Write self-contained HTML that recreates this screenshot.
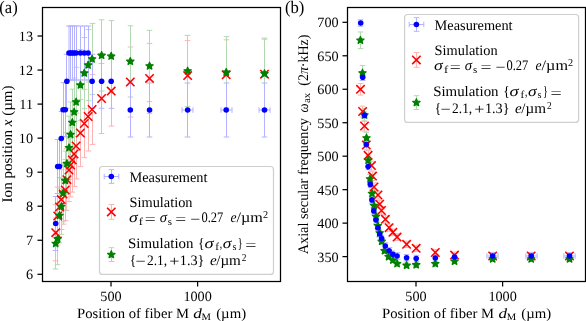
<!DOCTYPE html><html><head><meta charset="utf-8"><style>html,body{margin:0;padding:0;background:#fff;}svg{display:block;will-change:transform;}text{text-rendering:geometricPrecision;}</style></head><body><svg width="586" height="321" viewBox="0 0 586 321"><rect width="586" height="321" fill="#fff"/><g stroke="#ffb3b3" stroke-width="1.0" fill="none"><line x1="55.50" y1="204.66" x2="55.50" y2="260.74"/><line x1="52.70" y1="204.66" x2="58.30" y2="204.66"/><line x1="52.70" y1="260.74" x2="58.30" y2="260.74"/><line x1="57.50" y1="187.03" x2="57.50" y2="244.97"/><line x1="54.70" y1="187.03" x2="60.30" y2="187.03"/><line x1="54.70" y1="244.97" x2="60.30" y2="244.97"/><line x1="59.50" y1="177.52" x2="59.50" y2="236.48"/><line x1="56.70" y1="177.52" x2="62.30" y2="177.52"/><line x1="56.70" y1="236.48" x2="62.30" y2="236.48"/><line x1="61.50" y1="169.71" x2="61.50" y2="229.49"/><line x1="58.70" y1="169.71" x2="64.30" y2="169.71"/><line x1="58.70" y1="229.49" x2="64.30" y2="229.49"/><line x1="63.50" y1="163.80" x2="63.50" y2="224.20"/><line x1="60.70" y1="163.80" x2="66.30" y2="163.80"/><line x1="60.70" y1="224.20" x2="66.30" y2="224.20"/><line x1="65.50" y1="159.57" x2="65.50" y2="220.43"/><line x1="62.70" y1="159.57" x2="68.30" y2="159.57"/><line x1="62.70" y1="220.43" x2="68.30" y2="220.43"/><line x1="66.50" y1="148.70" x2="66.50" y2="210.70"/><line x1="63.70" y1="148.70" x2="69.30" y2="148.70"/><line x1="63.70" y1="210.70" x2="69.30" y2="210.70"/><line x1="69.00" y1="138.46" x2="69.00" y2="201.54"/><line x1="66.20" y1="138.46" x2="71.80" y2="138.46"/><line x1="66.20" y1="201.54" x2="71.80" y2="201.54"/><line x1="70.50" y1="133.18" x2="70.50" y2="196.82"/><line x1="67.70" y1="133.18" x2="73.30" y2="133.18"/><line x1="67.70" y1="196.82" x2="73.30" y2="196.82"/><line x1="72.50" y1="127.90" x2="72.50" y2="192.10"/><line x1="69.70" y1="127.90" x2="75.30" y2="127.90"/><line x1="69.70" y1="192.10" x2="75.30" y2="192.10"/><line x1="74.50" y1="121.57" x2="74.50" y2="186.43"/><line x1="71.70" y1="121.57" x2="77.30" y2="121.57"/><line x1="71.70" y1="186.43" x2="77.30" y2="186.43"/><line x1="76.50" y1="113.12" x2="76.50" y2="178.88"/><line x1="73.70" y1="113.12" x2="79.30" y2="113.12"/><line x1="73.70" y1="178.88" x2="79.30" y2="178.88"/><line x1="80.50" y1="99.39" x2="80.50" y2="166.61"/><line x1="77.70" y1="99.39" x2="83.30" y2="99.39"/><line x1="77.70" y1="166.61" x2="83.30" y2="166.61"/><line x1="84.50" y1="89.36" x2="84.50" y2="157.64"/><line x1="81.70" y1="89.36" x2="87.30" y2="89.36"/><line x1="81.70" y1="157.64" x2="87.30" y2="157.64"/><line x1="88.50" y1="81.97" x2="88.50" y2="151.03"/><line x1="85.70" y1="81.97" x2="91.30" y2="81.97"/><line x1="85.70" y1="151.03" x2="91.30" y2="151.03"/><line x1="92.50" y1="74.58" x2="92.50" y2="144.42"/><line x1="89.70" y1="74.58" x2="95.30" y2="74.58"/><line x1="89.70" y1="144.42" x2="95.30" y2="144.42"/><line x1="101.50" y1="63.50" x2="101.50" y2="133.50"/><line x1="98.70" y1="63.50" x2="104.30" y2="63.50"/><line x1="98.70" y1="133.50" x2="104.30" y2="133.50"/><line x1="111.50" y1="56.10" x2="111.50" y2="126.10"/><line x1="108.70" y1="56.10" x2="114.30" y2="56.10"/><line x1="108.70" y1="126.10" x2="114.30" y2="126.10"/><line x1="130.50" y1="47.00" x2="130.50" y2="117.00"/><line x1="127.70" y1="47.00" x2="133.30" y2="47.00"/><line x1="127.70" y1="117.00" x2="133.30" y2="117.00"/><line x1="149.50" y1="43.40" x2="149.50" y2="113.40"/><line x1="146.70" y1="43.40" x2="152.30" y2="43.40"/><line x1="146.70" y1="113.40" x2="152.30" y2="113.40"/><line x1="187.50" y1="40.60" x2="187.50" y2="110.60"/><line x1="184.70" y1="40.60" x2="190.30" y2="40.60"/><line x1="184.70" y1="110.60" x2="190.30" y2="110.60"/><line x1="226.50" y1="39.80" x2="226.50" y2="109.80"/><line x1="223.70" y1="39.80" x2="229.30" y2="39.80"/><line x1="223.70" y1="109.80" x2="229.30" y2="109.80"/><line x1="264.50" y1="39.20" x2="264.50" y2="109.20"/><line x1="261.70" y1="39.20" x2="267.30" y2="39.20"/><line x1="261.70" y1="109.20" x2="267.30" y2="109.20"/></g><g stroke="#b3d9b3" stroke-width="1.0" fill="none"><line x1="55.50" y1="217.99" x2="55.50" y2="269.01"/><line x1="52.70" y1="217.99" x2="58.30" y2="217.99"/><line x1="52.70" y1="269.01" x2="58.30" y2="269.01"/><line x1="57.50" y1="213.09" x2="57.50" y2="264.71"/><line x1="54.70" y1="213.09" x2="60.30" y2="213.09"/><line x1="54.70" y1="264.71" x2="60.30" y2="264.71"/><line x1="59.50" y1="188.18" x2="59.50" y2="242.82"/><line x1="56.70" y1="188.18" x2="62.30" y2="188.18"/><line x1="56.70" y1="242.82" x2="62.30" y2="242.82"/><line x1="61.50" y1="178.60" x2="61.50" y2="234.40"/><line x1="58.70" y1="178.60" x2="64.30" y2="178.60"/><line x1="58.70" y1="234.40" x2="64.30" y2="234.40"/><line x1="63.50" y1="164.23" x2="63.50" y2="221.77"/><line x1="60.70" y1="164.23" x2="66.30" y2="164.23"/><line x1="60.70" y1="221.77" x2="66.30" y2="221.77"/><line x1="65.50" y1="151.02" x2="65.50" y2="210.18"/><line x1="62.70" y1="151.02" x2="68.30" y2="151.02"/><line x1="62.70" y1="210.18" x2="68.30" y2="210.18"/><line x1="66.50" y1="132.93" x2="66.50" y2="194.27"/><line x1="63.70" y1="132.93" x2="69.30" y2="132.93"/><line x1="63.70" y1="194.27" x2="69.30" y2="194.27"/><line x1="69.00" y1="116.10" x2="69.00" y2="179.50"/><line x1="66.20" y1="116.10" x2="71.80" y2="116.10"/><line x1="66.20" y1="179.50" x2="71.80" y2="179.50"/><line x1="70.50" y1="101.94" x2="70.50" y2="167.06"/><line x1="67.70" y1="101.94" x2="73.30" y2="101.94"/><line x1="67.70" y1="167.06" x2="73.30" y2="167.06"/><line x1="72.50" y1="89.17" x2="72.50" y2="155.83"/><line x1="69.70" y1="89.17" x2="75.30" y2="89.17"/><line x1="69.70" y1="155.83" x2="75.30" y2="155.83"/><line x1="74.50" y1="77.99" x2="74.50" y2="146.01"/><line x1="71.70" y1="77.99" x2="77.30" y2="77.99"/><line x1="71.70" y1="146.01" x2="77.30" y2="146.01"/><line x1="76.50" y1="67.34" x2="76.50" y2="136.66"/><line x1="73.70" y1="67.34" x2="79.30" y2="67.34"/><line x1="73.70" y1="136.66" x2="79.30" y2="136.66"/><line x1="80.50" y1="49.50" x2="80.50" y2="120.70"/><line x1="77.70" y1="49.50" x2="83.30" y2="49.50"/><line x1="77.70" y1="120.70" x2="83.30" y2="120.70"/><line x1="84.50" y1="37.50" x2="84.50" y2="108.70"/><line x1="81.70" y1="37.50" x2="87.30" y2="37.50"/><line x1="81.70" y1="108.70" x2="87.30" y2="108.70"/><line x1="88.50" y1="29.50" x2="88.50" y2="100.70"/><line x1="85.70" y1="29.50" x2="91.30" y2="29.50"/><line x1="85.70" y1="100.70" x2="91.30" y2="100.70"/><line x1="92.50" y1="23.40" x2="92.50" y2="94.60"/><line x1="89.70" y1="23.40" x2="95.30" y2="23.40"/><line x1="89.70" y1="94.60" x2="95.30" y2="94.60"/><line x1="101.50" y1="19.80" x2="101.50" y2="91.00"/><line x1="98.70" y1="19.80" x2="104.30" y2="19.80"/><line x1="98.70" y1="91.00" x2="104.30" y2="91.00"/><line x1="111.50" y1="20.60" x2="111.50" y2="91.80"/><line x1="108.70" y1="20.60" x2="114.30" y2="20.60"/><line x1="108.70" y1="91.80" x2="114.30" y2="91.80"/><line x1="130.50" y1="25.80" x2="130.50" y2="97.00"/><line x1="127.70" y1="25.80" x2="133.30" y2="25.80"/><line x1="127.70" y1="97.00" x2="133.30" y2="97.00"/><line x1="149.50" y1="30.40" x2="149.50" y2="101.60"/><line x1="146.70" y1="30.40" x2="152.30" y2="30.40"/><line x1="146.70" y1="101.60" x2="152.30" y2="101.60"/><line x1="187.50" y1="35.40" x2="187.50" y2="106.60"/><line x1="184.70" y1="35.40" x2="190.30" y2="35.40"/><line x1="184.70" y1="106.60" x2="190.30" y2="106.60"/><line x1="226.50" y1="36.70" x2="226.50" y2="107.90"/><line x1="223.70" y1="36.70" x2="229.30" y2="36.70"/><line x1="223.70" y1="107.90" x2="229.30" y2="107.90"/><line x1="264.50" y1="38.10" x2="264.50" y2="109.30"/><line x1="261.70" y1="38.10" x2="267.30" y2="38.10"/><line x1="261.70" y1="109.30" x2="267.30" y2="109.30"/></g><g stroke="#b3b3ff" stroke-width="1.0" fill="none"><line x1="55.50" y1="196.50" x2="55.50" y2="250.50"/><line x1="52.70" y1="196.50" x2="58.30" y2="196.50"/><line x1="52.70" y1="250.50" x2="58.30" y2="250.50"/><line x1="57.50" y1="139.50" x2="57.50" y2="193.50"/><line x1="54.70" y1="139.50" x2="60.30" y2="139.50"/><line x1="54.70" y1="193.50" x2="60.30" y2="193.50"/><line x1="59.50" y1="139.50" x2="59.50" y2="193.50"/><line x1="56.70" y1="139.50" x2="62.30" y2="139.50"/><line x1="56.70" y1="193.50" x2="62.30" y2="193.50"/><line x1="61.50" y1="111.50" x2="61.50" y2="165.50"/><line x1="58.70" y1="111.50" x2="64.30" y2="111.50"/><line x1="58.70" y1="165.50" x2="64.30" y2="165.50"/><line x1="63.50" y1="82.70" x2="63.50" y2="136.70"/><line x1="60.70" y1="82.70" x2="66.30" y2="82.70"/><line x1="60.70" y1="136.70" x2="66.30" y2="136.70"/><line x1="65.50" y1="82.70" x2="65.50" y2="136.70"/><line x1="62.70" y1="82.70" x2="68.30" y2="82.70"/><line x1="62.70" y1="136.70" x2="68.30" y2="136.70"/><line x1="66.50" y1="54.30" x2="66.50" y2="108.30"/><line x1="63.70" y1="54.30" x2="69.30" y2="54.30"/><line x1="63.70" y1="108.30" x2="69.30" y2="108.30"/><line x1="69.00" y1="26.00" x2="69.00" y2="80.00"/><line x1="66.20" y1="26.00" x2="71.80" y2="26.00"/><line x1="66.20" y1="80.00" x2="71.80" y2="80.00"/><line x1="70.50" y1="26.00" x2="70.50" y2="80.00"/><line x1="67.70" y1="26.00" x2="73.30" y2="26.00"/><line x1="67.70" y1="80.00" x2="73.30" y2="80.00"/><line x1="72.50" y1="26.00" x2="72.50" y2="80.00"/><line x1="69.70" y1="26.00" x2="75.30" y2="26.00"/><line x1="69.70" y1="80.00" x2="75.30" y2="80.00"/><line x1="74.50" y1="26.00" x2="74.50" y2="80.00"/><line x1="71.70" y1="26.00" x2="77.30" y2="26.00"/><line x1="71.70" y1="80.00" x2="77.30" y2="80.00"/><line x1="76.50" y1="26.00" x2="76.50" y2="80.00"/><line x1="73.70" y1="26.00" x2="79.30" y2="26.00"/><line x1="73.70" y1="80.00" x2="79.30" y2="80.00"/><line x1="80.50" y1="26.00" x2="80.50" y2="80.00"/><line x1="77.70" y1="26.00" x2="83.30" y2="26.00"/><line x1="77.70" y1="80.00" x2="83.30" y2="80.00"/><line x1="84.50" y1="26.00" x2="84.50" y2="80.00"/><line x1="81.70" y1="26.00" x2="87.30" y2="26.00"/><line x1="81.70" y1="80.00" x2="87.30" y2="80.00"/><line x1="88.50" y1="26.00" x2="88.50" y2="80.00"/><line x1="85.70" y1="26.00" x2="91.30" y2="26.00"/><line x1="85.70" y1="80.00" x2="91.30" y2="80.00"/><line x1="92.50" y1="54.30" x2="92.50" y2="108.30"/><line x1="89.70" y1="54.30" x2="95.30" y2="54.30"/><line x1="89.70" y1="108.30" x2="95.30" y2="108.30"/><line x1="101.50" y1="54.30" x2="101.50" y2="108.30"/><line x1="98.70" y1="54.30" x2="104.30" y2="54.30"/><line x1="98.70" y1="108.30" x2="104.30" y2="108.30"/><line x1="111.50" y1="54.30" x2="111.50" y2="108.30"/><line x1="108.70" y1="54.30" x2="114.30" y2="54.30"/><line x1="108.70" y1="108.30" x2="114.30" y2="108.30"/><line x1="130.50" y1="83.00" x2="130.50" y2="137.00"/><line x1="127.70" y1="83.00" x2="133.30" y2="83.00"/><line x1="127.70" y1="137.00" x2="133.30" y2="137.00"/><line x1="149.50" y1="83.00" x2="149.50" y2="137.00"/><line x1="146.70" y1="83.00" x2="152.30" y2="83.00"/><line x1="146.70" y1="137.00" x2="152.30" y2="137.00"/><line x1="187.50" y1="83.00" x2="187.50" y2="137.00"/><line x1="184.70" y1="83.00" x2="190.30" y2="83.00"/><line x1="184.70" y1="137.00" x2="190.30" y2="137.00"/><line x1="182.00" y1="110.00" x2="193.00" y2="110.00"/><line x1="182.00" y1="107.20" x2="182.00" y2="112.80"/><line x1="193.00" y1="107.20" x2="193.00" y2="112.80"/><line x1="226.50" y1="83.00" x2="226.50" y2="137.00"/><line x1="223.70" y1="83.00" x2="229.30" y2="83.00"/><line x1="223.70" y1="137.00" x2="229.30" y2="137.00"/><line x1="221.00" y1="110.00" x2="232.00" y2="110.00"/><line x1="221.00" y1="107.20" x2="221.00" y2="112.80"/><line x1="232.00" y1="107.20" x2="232.00" y2="112.80"/><line x1="264.50" y1="83.00" x2="264.50" y2="137.00"/><line x1="261.70" y1="83.00" x2="267.30" y2="83.00"/><line x1="261.70" y1="137.00" x2="267.30" y2="137.00"/><line x1="259.00" y1="110.00" x2="270.00" y2="110.00"/><line x1="259.00" y1="107.20" x2="259.00" y2="112.80"/><line x1="270.00" y1="107.20" x2="270.00" y2="112.80"/></g><g stroke="#ff0000" stroke-width="1.6" fill="none"><path d="M51.50 228.50L59.90 236.90M51.50 236.90L59.90 228.50"/><path d="M53.50 211.80L61.90 220.20M53.50 220.20L61.90 211.80"/><path d="M55.30 202.80L63.70 211.20M55.30 211.20L63.70 202.80"/><path d="M57.10 195.40L65.50 203.80M57.10 203.80L65.50 195.40"/><path d="M58.90 189.80L67.30 198.20M58.90 198.20L67.30 189.80"/><path d="M61.10 185.80L69.50 194.20M61.10 194.20L69.50 185.80"/><path d="M62.70 175.50L71.10 183.90M62.70 183.90L71.10 175.50"/><path d="M64.80 165.80L73.20 174.20M64.80 174.20L73.20 165.80"/><path d="M66.40 160.80L74.80 169.20M66.40 169.20L74.80 160.80"/><path d="M68.10 155.80L76.50 164.20M68.10 164.20L76.50 155.80"/><path d="M69.90 149.80L78.30 158.20M69.90 158.20L78.30 149.80"/><path d="M71.90 141.80L80.30 150.20M71.90 150.20L80.30 141.80"/><path d="M76.20 128.80L84.60 137.20M76.20 137.20L84.60 128.80"/><path d="M80.10 119.30L88.50 127.70M80.10 127.70L88.50 119.30"/><path d="M83.90 112.30L92.30 120.70M83.90 120.70L92.30 112.30"/><path d="M87.90 105.30L96.30 113.70M87.90 113.70L96.30 105.30"/><path d="M97.40 94.30L105.80 102.70M97.40 102.70L105.80 94.30"/><path d="M107.00 86.90L115.40 95.30M107.00 95.30L115.40 86.90"/><path d="M126.10 77.80L134.50 86.20M126.10 86.20L134.50 77.80"/><path d="M145.35 74.20L153.75 82.60M145.35 82.60L153.75 74.20"/><path d="M183.46 71.40L191.86 79.80M183.46 79.80L191.86 71.40"/><path d="M222.00 70.60L230.40 79.00M222.00 79.00L230.40 70.60"/><path d="M260.30 70.00L268.70 78.40M260.30 78.40L268.70 70.00"/></g><g fill="#008000" stroke="#008000" stroke-width="1.25" stroke-linejoin="round"><polygon points="55.70,239.65 56.74,242.07 59.36,242.31 57.38,244.05 57.96,246.61 55.70,245.27 53.44,246.61 54.02,244.05 52.04,242.31 54.66,242.07"/><polygon points="57.70,235.05 58.74,237.47 61.36,237.71 59.38,239.45 59.96,242.01 57.70,240.67 55.44,242.01 56.02,239.45 54.04,237.71 56.66,237.47"/><polygon points="59.50,211.65 60.54,214.07 63.16,214.31 61.18,216.05 61.76,218.61 59.50,217.27 57.24,218.61 57.82,216.05 55.84,214.31 58.46,214.07"/><polygon points="61.30,202.65 62.34,205.07 64.96,205.31 62.98,207.05 63.56,209.61 61.30,208.27 59.04,209.61 59.62,207.05 57.64,205.31 60.26,205.07"/><polygon points="63.10,189.15 64.14,191.57 66.76,191.81 64.78,193.55 65.36,196.11 63.10,194.77 60.84,196.11 61.42,193.55 59.44,191.81 62.06,191.57"/><polygon points="65.30,176.75 66.34,179.17 68.96,179.41 66.98,181.15 67.56,183.71 65.30,182.37 63.04,183.71 63.62,181.15 61.64,179.41 64.26,179.17"/><polygon points="66.90,159.75 67.94,162.17 70.56,162.41 68.58,164.15 69.16,166.71 66.90,165.37 64.64,166.71 65.22,164.15 63.24,162.41 65.86,162.17"/><polygon points="69.00,143.95 70.04,146.37 72.66,146.61 70.68,148.35 71.26,150.91 69.00,149.57 66.74,150.91 67.32,148.35 65.34,146.61 67.96,146.37"/><polygon points="70.60,130.65 71.64,133.07 74.26,133.31 72.28,135.05 72.86,137.61 70.60,136.27 68.34,137.61 68.92,135.05 66.94,133.31 69.56,133.07"/><polygon points="72.30,118.65 73.34,121.07 75.96,121.31 73.98,123.05 74.56,125.61 72.30,124.27 70.04,125.61 70.62,123.05 68.64,121.31 71.26,121.07"/><polygon points="74.10,108.15 75.14,110.57 77.76,110.81 75.78,112.55 76.36,115.11 74.10,113.77 71.84,115.11 72.42,112.55 70.44,110.81 73.06,110.57"/><polygon points="76.10,98.15 77.14,100.57 79.76,100.81 77.78,102.55 78.36,105.11 76.10,103.77 73.84,105.11 74.42,102.55 72.44,100.81 75.06,100.57"/><polygon points="80.40,81.25 81.44,83.67 84.06,83.91 82.08,85.65 82.66,88.21 80.40,86.87 78.14,88.21 78.72,85.65 76.74,83.91 79.36,83.67"/><polygon points="84.30,69.25 85.34,71.67 87.96,71.91 85.98,73.65 86.56,76.21 84.30,74.87 82.04,76.21 82.62,73.65 80.64,71.91 83.26,71.67"/><polygon points="88.10,61.25 89.14,63.67 91.76,63.91 89.78,65.65 90.36,68.21 88.10,66.87 85.84,68.21 86.42,65.65 84.44,63.91 87.06,63.67"/><polygon points="92.10,55.15 93.14,57.57 95.76,57.81 93.78,59.55 94.36,62.11 92.10,60.77 89.84,62.11 90.42,59.55 88.44,57.81 91.06,57.57"/><polygon points="101.60,51.55 102.64,53.97 105.26,54.21 103.28,55.95 103.86,58.51 101.60,57.17 99.34,58.51 99.92,55.95 97.94,54.21 100.56,53.97"/><polygon points="111.20,52.35 112.24,54.77 114.86,55.01 112.88,56.75 113.46,59.31 111.20,57.97 108.94,59.31 109.52,56.75 107.54,55.01 110.16,54.77"/><polygon points="130.30,57.55 131.34,59.97 133.96,60.21 131.98,61.95 132.56,64.51 130.30,63.17 128.04,64.51 128.62,61.95 126.64,60.21 129.26,59.97"/><polygon points="149.55,62.15 150.59,64.57 153.21,64.81 151.23,66.55 151.81,69.11 149.55,67.77 147.29,69.11 147.87,66.55 145.89,64.81 148.51,64.57"/><polygon points="187.66,67.15 188.70,69.57 191.32,69.81 189.34,71.55 189.92,74.11 187.66,72.77 185.40,74.11 185.98,71.55 184.00,69.81 186.62,69.57"/><polygon points="226.20,68.45 227.24,70.87 229.86,71.11 227.88,72.85 228.46,75.41 226.20,74.07 223.94,75.41 224.52,72.85 222.54,71.11 225.16,70.87"/><polygon points="264.50,69.85 265.54,72.27 268.16,72.51 266.18,74.25 266.76,76.81 264.50,75.47 262.24,76.81 262.82,74.25 260.84,72.51 263.46,72.27"/></g><g fill="#0000ff"><circle cx="55.70" cy="223.50" r="2.8"/><circle cx="57.70" cy="166.50" r="2.8"/><circle cx="59.50" cy="166.50" r="2.8"/><circle cx="61.30" cy="138.50" r="2.8"/><circle cx="63.10" cy="109.70" r="2.8"/><circle cx="65.30" cy="109.70" r="2.8"/><circle cx="66.90" cy="81.30" r="2.8"/><circle cx="69.00" cy="53.00" r="2.8"/><circle cx="70.60" cy="53.00" r="2.8"/><circle cx="72.30" cy="53.00" r="2.8"/><circle cx="74.10" cy="53.00" r="2.8"/><circle cx="76.10" cy="53.00" r="2.8"/><circle cx="80.40" cy="53.00" r="2.8"/><circle cx="84.30" cy="53.00" r="2.8"/><circle cx="88.10" cy="53.00" r="2.8"/><circle cx="92.10" cy="81.30" r="2.8"/><circle cx="101.60" cy="81.30" r="2.8"/><circle cx="111.20" cy="81.30" r="2.8"/><circle cx="130.30" cy="110.00" r="2.8"/><circle cx="149.55" cy="110.00" r="2.8"/><circle cx="187.66" cy="110.00" r="2.8"/><circle cx="226.20" cy="110.00" r="2.8"/><circle cx="264.50" cy="110.00" r="2.8"/></g><g stroke="#ffb3b3" stroke-width="1.0" fill="none"><line x1="360.50" y1="83.50" x2="360.50" y2="95.10"/><line x1="357.70" y1="83.50" x2="363.30" y2="83.50"/><line x1="357.70" y1="95.10" x2="363.30" y2="95.10"/><line x1="362.50" y1="106.08" x2="362.50" y2="116.92"/><line x1="359.70" y1="106.08" x2="365.30" y2="106.08"/><line x1="359.70" y1="116.92" x2="365.30" y2="116.92"/><line x1="364.50" y1="120.82" x2="364.50" y2="131.18"/><line x1="361.70" y1="120.82" x2="367.30" y2="120.82"/><line x1="361.70" y1="131.18" x2="367.30" y2="131.18"/><line x1="366.50" y1="140.14" x2="366.50" y2="149.86"/><line x1="363.70" y1="140.14" x2="369.30" y2="140.14"/><line x1="363.70" y1="149.86" x2="369.30" y2="149.86"/><line x1="368.50" y1="150.61" x2="368.50" y2="159.99"/><line x1="365.70" y1="150.61" x2="371.30" y2="150.61"/><line x1="365.70" y1="159.99" x2="371.30" y2="159.99"/><line x1="371.50" y1="161.08" x2="371.50" y2="170.12"/><line x1="368.70" y1="161.08" x2="374.30" y2="161.08"/><line x1="368.70" y1="170.12" x2="374.30" y2="170.12"/><line x1="372.50" y1="171.76" x2="372.50" y2="180.44"/><line x1="369.70" y1="171.76" x2="375.30" y2="171.76"/><line x1="369.70" y1="180.44" x2="375.30" y2="180.44"/><line x1="374.00" y1="182.84" x2="374.00" y2="191.16"/><line x1="371.20" y1="182.84" x2="376.80" y2="182.84"/><line x1="371.20" y1="191.16" x2="376.80" y2="191.16"/><line x1="378.00" y1="190.97" x2="378.00" y2="199.03"/><line x1="375.20" y1="190.97" x2="380.80" y2="190.97"/><line x1="375.20" y1="199.03" x2="380.80" y2="199.03"/><line x1="379.50" y1="200.33" x2="379.50" y2="208.07"/><line x1="376.70" y1="200.33" x2="382.30" y2="200.33"/><line x1="376.70" y1="208.07" x2="382.30" y2="208.07"/><line x1="381.50" y1="206.73" x2="381.50" y2="214.27"/><line x1="378.70" y1="206.73" x2="384.30" y2="206.73"/><line x1="378.70" y1="214.27" x2="384.30" y2="214.27"/><line x1="385.50" y1="215.68" x2="385.50" y2="222.92"/><line x1="382.70" y1="215.68" x2="388.30" y2="215.68"/><line x1="382.70" y1="222.92" x2="388.30" y2="222.92"/><line x1="389.50" y1="224.22" x2="389.50" y2="231.18"/><line x1="386.70" y1="224.22" x2="392.30" y2="224.22"/><line x1="386.70" y1="231.18" x2="392.30" y2="231.18"/><line x1="392.50" y1="228.90" x2="392.50" y2="235.70"/><line x1="389.70" y1="228.90" x2="395.30" y2="228.90"/><line x1="389.70" y1="235.70" x2="395.30" y2="235.70"/><line x1="397.50" y1="233.78" x2="397.50" y2="240.42"/><line x1="394.70" y1="233.78" x2="400.30" y2="233.78"/><line x1="394.70" y1="240.42" x2="400.30" y2="240.42"/><line x1="406.50" y1="241.10" x2="406.50" y2="247.50"/><line x1="403.70" y1="241.10" x2="409.30" y2="241.10"/><line x1="403.70" y1="247.50" x2="409.30" y2="247.50"/><line x1="416.50" y1="245.17" x2="416.50" y2="251.43"/><line x1="413.70" y1="245.17" x2="419.30" y2="245.17"/><line x1="413.70" y1="251.43" x2="419.30" y2="251.43"/><line x1="435.50" y1="249.44" x2="435.50" y2="255.56"/><line x1="432.70" y1="249.44" x2="438.30" y2="249.44"/><line x1="432.70" y1="255.56" x2="438.30" y2="255.56"/><line x1="454.50" y1="252.08" x2="454.50" y2="258.12"/><line x1="451.70" y1="252.08" x2="457.30" y2="252.08"/><line x1="451.70" y1="258.12" x2="457.30" y2="258.12"/><line x1="492.50" y1="253.00" x2="492.50" y2="259.00"/><line x1="489.70" y1="253.00" x2="495.30" y2="253.00"/><line x1="489.70" y1="259.00" x2="495.30" y2="259.00"/><line x1="531.50" y1="253.00" x2="531.50" y2="259.00"/><line x1="528.70" y1="253.00" x2="534.30" y2="253.00"/><line x1="528.70" y1="259.00" x2="534.30" y2="259.00"/><line x1="569.50" y1="253.00" x2="569.50" y2="259.00"/><line x1="566.70" y1="253.00" x2="572.30" y2="253.00"/><line x1="566.70" y1="259.00" x2="572.30" y2="259.00"/></g><g stroke="#b3d9b3" stroke-width="1.0" fill="none"><line x1="360.50" y1="31.98" x2="360.50" y2="48.62"/><line x1="357.70" y1="31.98" x2="363.30" y2="31.98"/><line x1="357.70" y1="48.62" x2="363.30" y2="48.62"/><line x1="362.50" y1="65.55" x2="362.50" y2="80.45"/><line x1="359.70" y1="65.55" x2="365.30" y2="65.55"/><line x1="359.70" y1="80.45" x2="365.30" y2="80.45"/><line x1="364.50" y1="108.67" x2="364.50" y2="121.33"/><line x1="361.70" y1="108.67" x2="367.30" y2="108.67"/><line x1="361.70" y1="121.33" x2="367.30" y2="121.33"/><line x1="366.50" y1="132.28" x2="366.50" y2="143.72"/><line x1="363.70" y1="132.28" x2="369.30" y2="132.28"/><line x1="363.70" y1="143.72" x2="369.30" y2="143.72"/><line x1="368.50" y1="155.18" x2="368.50" y2="165.42"/><line x1="365.70" y1="155.18" x2="371.30" y2="155.18"/><line x1="365.70" y1="165.42" x2="371.30" y2="165.42"/><line x1="370.00" y1="174.37" x2="370.00" y2="183.63"/><line x1="367.20" y1="174.37" x2="372.80" y2="174.37"/><line x1="367.20" y1="183.63" x2="372.80" y2="183.63"/><line x1="372.00" y1="189.26" x2="372.00" y2="197.74"/><line x1="369.20" y1="189.26" x2="374.80" y2="189.26"/><line x1="369.20" y1="197.74" x2="374.80" y2="197.74"/><line x1="374.50" y1="201.68" x2="374.50" y2="209.52"/><line x1="371.70" y1="201.68" x2="377.30" y2="201.68"/><line x1="371.70" y1="209.52" x2="377.30" y2="209.52"/><line x1="376.00" y1="212.87" x2="376.00" y2="220.13"/><line x1="373.20" y1="212.87" x2="378.80" y2="212.87"/><line x1="373.20" y1="220.13" x2="378.80" y2="220.13"/><line x1="377.50" y1="222.42" x2="377.50" y2="229.18"/><line x1="374.70" y1="222.42" x2="380.30" y2="222.42"/><line x1="374.70" y1="229.18" x2="380.30" y2="229.18"/><line x1="379.50" y1="229.81" x2="379.50" y2="236.19"/><line x1="376.70" y1="229.81" x2="382.30" y2="229.81"/><line x1="376.70" y1="236.19" x2="382.30" y2="236.19"/><line x1="381.50" y1="238.43" x2="381.50" y2="244.37"/><line x1="378.70" y1="238.43" x2="384.30" y2="238.43"/><line x1="378.70" y1="244.37" x2="384.30" y2="244.37"/><line x1="384.50" y1="248.09" x2="384.50" y2="253.51"/><line x1="381.70" y1="248.09" x2="387.30" y2="248.09"/><line x1="381.70" y1="253.51" x2="387.30" y2="253.51"/><line x1="388.50" y1="254.24" x2="388.50" y2="259.36"/><line x1="385.70" y1="254.24" x2="391.30" y2="254.24"/><line x1="385.70" y1="259.36" x2="391.30" y2="259.36"/><line x1="392.50" y1="257.70" x2="392.50" y2="262.70"/><line x1="389.70" y1="257.70" x2="395.30" y2="257.70"/><line x1="389.70" y1="262.70" x2="395.30" y2="262.70"/><line x1="397.50" y1="261.20" x2="397.50" y2="266.20"/><line x1="394.70" y1="261.20" x2="400.30" y2="261.20"/><line x1="394.70" y1="266.20" x2="400.30" y2="266.20"/><line x1="406.50" y1="262.90" x2="406.50" y2="267.90"/><line x1="403.70" y1="262.90" x2="409.30" y2="262.90"/><line x1="403.70" y1="267.90" x2="409.30" y2="267.90"/><line x1="416.50" y1="262.40" x2="416.50" y2="267.40"/><line x1="413.70" y1="262.40" x2="419.30" y2="262.40"/><line x1="413.70" y1="267.40" x2="419.30" y2="267.40"/><line x1="435.50" y1="261.20" x2="435.50" y2="266.20"/><line x1="432.70" y1="261.20" x2="438.30" y2="261.20"/><line x1="432.70" y1="266.20" x2="438.30" y2="266.20"/><line x1="454.50" y1="258.80" x2="454.50" y2="263.80"/><line x1="451.70" y1="258.80" x2="457.30" y2="258.80"/><line x1="451.70" y1="263.80" x2="457.30" y2="263.80"/><line x1="492.50" y1="256.50" x2="492.50" y2="261.50"/><line x1="489.70" y1="256.50" x2="495.30" y2="256.50"/><line x1="489.70" y1="261.50" x2="495.30" y2="261.50"/><line x1="531.50" y1="256.50" x2="531.50" y2="261.50"/><line x1="528.70" y1="256.50" x2="534.30" y2="256.50"/><line x1="528.70" y1="261.50" x2="534.30" y2="261.50"/><line x1="569.50" y1="256.50" x2="569.50" y2="261.50"/><line x1="566.70" y1="256.50" x2="572.30" y2="256.50"/><line x1="566.70" y1="261.50" x2="572.30" y2="261.50"/></g><g stroke="#b3b3ff" stroke-width="1.0" fill="none"><line x1="360.50" y1="19.80" x2="360.50" y2="26.20"/><line x1="357.70" y1="19.80" x2="363.30" y2="19.80"/><line x1="357.70" y1="26.20" x2="363.30" y2="26.20"/><line x1="362.50" y1="74.10" x2="362.50" y2="80.50"/><line x1="359.70" y1="74.10" x2="365.30" y2="74.10"/><line x1="359.70" y1="80.50" x2="365.30" y2="80.50"/><line x1="364.50" y1="112.10" x2="364.50" y2="118.50"/><line x1="361.70" y1="112.10" x2="367.30" y2="112.10"/><line x1="361.70" y1="118.50" x2="367.30" y2="118.50"/><line x1="366.50" y1="141.30" x2="366.50" y2="147.70"/><line x1="363.70" y1="141.30" x2="369.30" y2="141.30"/><line x1="363.70" y1="147.70" x2="369.30" y2="147.70"/><line x1="368.50" y1="163.30" x2="368.50" y2="169.70"/><line x1="365.70" y1="163.30" x2="371.30" y2="163.30"/><line x1="365.70" y1="169.70" x2="371.30" y2="169.70"/><line x1="370.50" y1="181.20" x2="370.50" y2="187.60"/><line x1="367.70" y1="181.20" x2="373.30" y2="181.20"/><line x1="367.70" y1="187.60" x2="373.30" y2="187.60"/><line x1="371.50" y1="196.70" x2="371.50" y2="203.10"/><line x1="368.70" y1="196.70" x2="374.30" y2="196.70"/><line x1="368.70" y1="203.10" x2="374.30" y2="203.10"/><line x1="373.50" y1="207.70" x2="373.50" y2="214.10"/><line x1="370.70" y1="207.70" x2="376.30" y2="207.70"/><line x1="370.70" y1="214.10" x2="376.30" y2="214.10"/><line x1="376.00" y1="216.80" x2="376.00" y2="223.20"/><line x1="373.20" y1="216.80" x2="378.80" y2="216.80"/><line x1="373.20" y1="223.20" x2="378.80" y2="223.20"/><line x1="378.00" y1="224.50" x2="378.00" y2="230.90"/><line x1="375.20" y1="224.50" x2="380.80" y2="224.50"/><line x1="375.20" y1="230.90" x2="380.80" y2="230.90"/><line x1="379.50" y1="230.80" x2="379.50" y2="237.20"/><line x1="376.70" y1="230.80" x2="382.30" y2="230.80"/><line x1="376.70" y1="237.20" x2="382.30" y2="237.20"/><line x1="381.50" y1="235.30" x2="381.50" y2="241.70"/><line x1="378.70" y1="235.30" x2="384.30" y2="235.30"/><line x1="378.70" y1="241.70" x2="384.30" y2="241.70"/><line x1="385.50" y1="242.80" x2="385.50" y2="249.20"/><line x1="382.70" y1="242.80" x2="388.30" y2="242.80"/><line x1="382.70" y1="249.20" x2="388.30" y2="249.20"/><line x1="389.50" y1="247.60" x2="389.50" y2="254.00"/><line x1="386.70" y1="247.60" x2="392.30" y2="247.60"/><line x1="386.70" y1="254.00" x2="392.30" y2="254.00"/><line x1="392.50" y1="251.00" x2="392.50" y2="257.40"/><line x1="389.70" y1="251.00" x2="395.30" y2="251.00"/><line x1="389.70" y1="257.40" x2="395.30" y2="257.40"/><line x1="397.50" y1="252.80" x2="397.50" y2="259.20"/><line x1="394.70" y1="252.80" x2="400.30" y2="252.80"/><line x1="394.70" y1="259.20" x2="400.30" y2="259.20"/><line x1="406.50" y1="254.50" x2="406.50" y2="260.90"/><line x1="403.70" y1="254.50" x2="409.30" y2="254.50"/><line x1="403.70" y1="260.90" x2="409.30" y2="260.90"/><line x1="416.50" y1="255.30" x2="416.50" y2="261.70"/><line x1="413.70" y1="255.30" x2="419.30" y2="255.30"/><line x1="413.70" y1="261.70" x2="419.30" y2="261.70"/><line x1="435.50" y1="254.80" x2="435.50" y2="261.20"/><line x1="432.70" y1="254.80" x2="438.30" y2="254.80"/><line x1="432.70" y1="261.20" x2="438.30" y2="261.20"/><line x1="454.50" y1="253.80" x2="454.50" y2="260.20"/><line x1="451.70" y1="253.80" x2="457.30" y2="253.80"/><line x1="451.70" y1="260.20" x2="457.30" y2="260.20"/><line x1="492.50" y1="252.80" x2="492.50" y2="259.20"/><line x1="489.70" y1="252.80" x2="495.30" y2="252.80"/><line x1="489.70" y1="259.20" x2="495.30" y2="259.20"/><line x1="486.90" y1="256.00" x2="498.10" y2="256.00"/><line x1="486.90" y1="253.20" x2="486.90" y2="258.80"/><line x1="498.10" y1="253.20" x2="498.10" y2="258.80"/><line x1="531.50" y1="252.80" x2="531.50" y2="259.20"/><line x1="528.70" y1="252.80" x2="534.30" y2="252.80"/><line x1="528.70" y1="259.20" x2="534.30" y2="259.20"/><line x1="525.90" y1="256.00" x2="537.10" y2="256.00"/><line x1="525.90" y1="253.20" x2="525.90" y2="258.80"/><line x1="537.10" y1="253.20" x2="537.10" y2="258.80"/><line x1="569.50" y1="252.80" x2="569.50" y2="259.20"/><line x1="566.70" y1="252.80" x2="572.30" y2="252.80"/><line x1="566.70" y1="259.20" x2="572.30" y2="259.20"/><line x1="563.90" y1="256.00" x2="575.10" y2="256.00"/><line x1="563.90" y1="253.20" x2="563.90" y2="258.80"/><line x1="575.10" y1="253.20" x2="575.10" y2="258.80"/></g><g stroke="#ff0000" stroke-width="1.6" fill="none"><path d="M356.30 85.10L364.70 93.50M356.30 93.50L364.70 85.10"/><path d="M358.40 107.30L366.80 115.70M358.40 115.70L366.80 107.30"/><path d="M360.30 121.80L368.70 130.20M360.30 130.20L368.70 121.80"/><path d="M362.10 140.80L370.50 149.20M362.10 149.20L370.50 140.80"/><path d="M363.90 151.10L372.30 159.50M363.90 159.50L372.30 151.10"/><path d="M367.30 161.40L375.70 169.80M367.30 169.80L375.70 161.40"/><path d="M368.30 171.90L376.70 180.30M368.30 180.30L376.70 171.90"/><path d="M369.80 182.80L378.20 191.20M369.80 191.20L378.20 182.80"/><path d="M373.80 190.80L382.20 199.20M373.80 199.20L382.20 190.80"/><path d="M375.50 200.00L383.90 208.40M375.50 208.40L383.90 200.00"/><path d="M377.30 206.30L385.70 214.70M377.30 214.70L385.70 206.30"/><path d="M381.20 215.10L389.60 223.50M381.20 223.50L389.60 215.10"/><path d="M384.90 223.50L393.30 231.90M384.90 231.90L393.30 223.50"/><path d="M388.70 228.10L397.10 236.50M388.70 236.50L397.10 228.10"/><path d="M392.90 232.90L401.30 241.30M392.90 241.30L401.30 232.90"/><path d="M402.40 240.10L410.80 248.50M402.40 248.50L410.80 240.10"/><path d="M412.00 244.10L420.40 252.50M412.00 252.50L420.40 244.10"/><path d="M431.10 248.30L439.50 256.70M431.10 256.70L439.50 248.30"/><path d="M450.35 250.90L458.75 259.30M450.35 259.30L458.75 250.90"/><path d="M488.46 251.80L496.86 260.20M488.46 260.20L496.86 251.80"/><path d="M527.00 251.80L535.40 260.20M527.00 260.20L535.40 251.80"/><path d="M565.30 251.80L573.70 260.20M565.30 260.20L573.70 251.80"/></g><g fill="#008000" stroke="#008000" stroke-width="1.25" stroke-linejoin="round"><polygon points="360.40,36.45 361.44,38.87 364.06,39.11 362.08,40.85 362.66,43.41 360.40,42.07 358.14,43.41 358.72,40.85 356.74,39.11 359.36,38.87"/><polygon points="362.50,69.15 363.54,71.57 366.16,71.81 364.18,73.55 364.76,76.11 362.50,74.77 360.24,76.11 360.82,73.55 358.84,71.81 361.46,71.57"/><polygon points="364.50,111.15 365.54,113.57 368.16,113.81 366.18,115.55 366.76,118.11 364.50,116.77 362.24,118.11 362.82,115.55 360.84,113.81 363.46,113.57"/><polygon points="366.50,134.15 367.54,136.57 370.16,136.81 368.18,138.55 368.76,141.11 366.50,139.77 364.24,141.11 364.82,138.55 362.84,136.81 365.46,136.57"/><polygon points="368.10,156.45 369.14,158.87 371.76,159.11 369.78,160.85 370.36,163.41 368.10,162.07 365.84,163.41 366.42,160.85 364.44,159.11 367.06,158.87"/><polygon points="370.00,175.15 371.04,177.57 373.66,177.81 371.68,179.55 372.26,182.11 370.00,180.77 367.74,182.11 368.32,179.55 366.34,177.81 368.96,177.57"/><polygon points="372.00,189.65 373.04,192.07 375.66,192.31 373.68,194.05 374.26,196.61 372.00,195.27 369.74,196.61 370.32,194.05 368.34,192.31 370.96,192.07"/><polygon points="374.10,201.75 375.14,204.17 377.76,204.41 375.78,206.15 376.36,208.71 374.10,207.37 371.84,208.71 372.42,206.15 370.44,204.41 373.06,204.17"/><polygon points="376.00,212.65 377.04,215.07 379.66,215.31 377.68,217.05 378.26,219.61 376.00,218.27 373.74,219.61 374.32,217.05 372.34,215.31 374.96,215.07"/><polygon points="377.80,221.95 378.84,224.37 381.46,224.61 379.48,226.35 380.06,228.91 377.80,227.57 375.54,228.91 376.12,226.35 374.14,224.61 376.76,224.37"/><polygon points="379.70,229.15 380.74,231.57 383.36,231.81 381.38,233.55 381.96,236.11 379.70,234.77 377.44,236.11 378.02,233.55 376.04,231.81 378.66,231.57"/><polygon points="381.70,237.55 382.74,239.97 385.36,240.21 383.38,241.95 383.96,244.51 381.70,243.17 379.44,244.51 380.02,241.95 378.04,240.21 380.66,239.97"/><polygon points="384.50,246.95 385.54,249.37 388.16,249.61 386.18,251.35 386.76,253.91 384.50,252.57 382.24,253.91 382.82,251.35 380.84,249.61 383.46,249.37"/><polygon points="388.60,252.95 389.64,255.37 392.26,255.61 390.28,257.35 390.86,259.91 388.60,258.57 386.34,259.91 386.92,257.35 384.94,255.61 387.56,255.37"/><polygon points="392.90,256.35 393.94,258.77 396.56,259.01 394.58,260.75 395.16,263.31 392.90,261.97 390.64,263.31 391.22,260.75 389.24,259.01 391.86,258.77"/><polygon points="397.10,259.85 398.14,262.27 400.76,262.51 398.78,264.25 399.36,266.81 397.10,265.47 394.84,266.81 395.42,264.25 393.44,262.51 396.06,262.27"/><polygon points="406.60,261.55 407.64,263.97 410.26,264.21 408.28,265.95 408.86,268.51 406.60,267.17 404.34,268.51 404.92,265.95 402.94,264.21 405.56,263.97"/><polygon points="416.20,261.05 417.24,263.47 419.86,263.71 417.88,265.45 418.46,268.01 416.20,266.67 413.94,268.01 414.52,265.45 412.54,263.71 415.16,263.47"/><polygon points="435.30,259.85 436.34,262.27 438.96,262.51 436.98,264.25 437.56,266.81 435.30,265.47 433.04,266.81 433.62,264.25 431.64,262.51 434.26,262.27"/><polygon points="454.55,257.45 455.59,259.87 458.21,260.11 456.23,261.85 456.81,264.41 454.55,263.07 452.29,264.41 452.87,261.85 450.89,260.11 453.51,259.87"/><polygon points="492.66,255.15 493.70,257.57 496.32,257.81 494.34,259.55 494.92,262.11 492.66,260.77 490.40,262.11 490.98,259.55 489.00,257.81 491.62,257.57"/><polygon points="531.20,255.15 532.24,257.57 534.86,257.81 532.88,259.55 533.46,262.11 531.20,260.77 528.94,262.11 529.52,259.55 527.54,257.81 530.16,257.57"/><polygon points="569.50,255.15 570.54,257.57 573.16,257.81 571.18,259.55 571.76,262.11 569.50,260.77 567.24,262.11 567.82,259.55 565.84,257.81 568.46,257.57"/></g><g fill="#0000ff"><circle cx="360.70" cy="23.00" r="2.8"/><circle cx="362.70" cy="77.30" r="2.8"/><circle cx="364.50" cy="115.30" r="2.8"/><circle cx="366.30" cy="144.50" r="2.8"/><circle cx="368.10" cy="166.50" r="2.8"/><circle cx="370.30" cy="184.40" r="2.8"/><circle cx="371.90" cy="199.90" r="2.8"/><circle cx="373.80" cy="210.90" r="2.8"/><circle cx="376.00" cy="220.00" r="2.8"/><circle cx="378.00" cy="227.70" r="2.8"/><circle cx="379.70" cy="234.00" r="2.8"/><circle cx="381.70" cy="238.50" r="2.8"/><circle cx="385.30" cy="246.00" r="2.8"/><circle cx="389.10" cy="250.80" r="2.8"/><circle cx="392.90" cy="254.20" r="2.8"/><circle cx="397.10" cy="256.00" r="2.8"/><circle cx="406.60" cy="257.70" r="2.8"/><circle cx="416.20" cy="258.50" r="2.8"/><circle cx="435.30" cy="258.00" r="2.8"/><circle cx="454.55" cy="257.00" r="2.8"/><circle cx="492.66" cy="256.00" r="2.8"/><circle cx="531.20" cy="256.00" r="2.8"/><circle cx="569.50" cy="256.00" r="2.8"/></g><rect x="99.50" y="166.50" width="174" height="107.9" rx="3" fill="rgba(255,255,255,0.8)" stroke="#cfcfcf" stroke-width="1.2"/><g stroke="#b3b3ff" stroke-width="1.0" fill="none"><line x1="111.50" y1="169.70" x2="111.50" y2="183.30"/><line x1="108.70" y1="169.70" x2="114.30" y2="169.70"/><line x1="108.70" y1="183.30" x2="114.30" y2="183.30"/><line x1="104.20" y1="176.50" x2="118.80" y2="176.50"/><line x1="104.20" y1="173.70" x2="104.20" y2="179.30"/><line x1="118.80" y1="173.70" x2="118.80" y2="179.30"/></g><g fill="#0000ff"><circle cx="111.30" cy="176.50" r="2.8"/></g><g stroke="#ffb3b3" stroke-width="1.0" fill="none"><line x1="111.50" y1="204.50" x2="111.50" y2="219.30"/><line x1="108.70" y1="204.50" x2="114.30" y2="204.50"/><line x1="108.70" y1="219.30" x2="114.30" y2="219.30"/></g><g stroke="#ff0000" stroke-width="1.6" fill="none"><path d="M107.10 207.70L115.50 216.10M107.10 216.10L115.50 207.70"/></g><g stroke="#b3d9b3" stroke-width="1.0" fill="none"><line x1="111.50" y1="247.70" x2="111.50" y2="261.50"/><line x1="108.70" y1="247.70" x2="114.30" y2="247.70"/><line x1="108.70" y1="261.50" x2="114.30" y2="261.50"/></g><g fill="#008000" stroke="#008000" stroke-width="1.25" stroke-linejoin="round"><polygon points="111.30,250.75 112.34,253.17 114.96,253.41 112.98,255.15 113.56,257.71 111.30,256.37 109.04,257.71 109.62,255.15 107.64,253.41 110.26,253.17"/></g><g font-family="'Liberation Serif', serif" font-size="14.5" fill="#000"><text x="129.50" y="181.50" textLength="78" lengthAdjust="spacingAndGlyphs">Measurement</text><text x="129.50" y="207.20" textLength="63" lengthAdjust="spacingAndGlyphs">Simulation</text><text x="129.00" y="222.20" font-size="14.5" font-style="italic" textLength="8.77" lengthAdjust="spacingAndGlyphs">σ</text><text x="138.80" y="224.50" font-size="10.5" textLength="4.24" lengthAdjust="spacingAndGlyphs">f</text><text x="144.66" y="224.20" font-size="14.5" textLength="10.99" lengthAdjust="spacingAndGlyphs">=</text><text x="159.70" y="222.20" font-size="14.5" font-style="italic" textLength="7.25" lengthAdjust="spacingAndGlyphs">σ</text><text x="167.80" y="224.50" font-size="10.5" textLength="4.20" lengthAdjust="spacingAndGlyphs">s</text><text x="175.36" y="224.20" font-size="14.5" textLength="10.99" lengthAdjust="spacingAndGlyphs">=</text><text x="190.37" y="223.50" font-size="14.5" textLength="10.06" lengthAdjust="spacingAndGlyphs">−</text><text x="201.40" y="222.20" font-size="14.5" textLength="21.82" lengthAdjust="spacingAndGlyphs">0.27</text><text x="230.50" y="222.20" font-size="14.5" font-style="italic" textLength="6.01" lengthAdjust="spacingAndGlyphs">e</text><text x="236.50" y="222.20" font-size="14.5" textLength="26.35" lengthAdjust="spacingAndGlyphs">/µm</text><text x="263.00" y="218.40" font-size="10.5" textLength="5.10" lengthAdjust="spacingAndGlyphs">2</text><text x="128.07" y="247.60" font-size="14.5" textLength="65.40" lengthAdjust="spacingAndGlyphs">Simulation</text><text x="198.06" y="247.60" font-size="14.5" textLength="6.55" lengthAdjust="spacingAndGlyphs">{</text><text x="204.40" y="247.60" font-size="14.5" font-style="italic" textLength="9.12" lengthAdjust="spacingAndGlyphs">σ</text><text x="215.30" y="249.90" font-size="10.5" textLength="3.79" lengthAdjust="spacingAndGlyphs">f</text><text x="219.80" y="247.60" font-size="14.5" textLength="2.30" lengthAdjust="spacingAndGlyphs">,</text><text x="222.80" y="247.60" font-size="14.5" font-style="italic" textLength="8.59" lengthAdjust="spacingAndGlyphs">σ</text><text x="232.40" y="249.90" font-size="10.5" textLength="4.00" lengthAdjust="spacingAndGlyphs">s</text><text x="237.80" y="247.60" font-size="14.5" textLength="4.88" lengthAdjust="spacingAndGlyphs">}</text><text x="245.33" y="249.60" font-size="14.5" textLength="11.23" lengthAdjust="spacingAndGlyphs">=</text><text x="129.68" y="264.90" font-size="14.5" textLength="6.41" lengthAdjust="spacingAndGlyphs">{</text><text x="135.46" y="266.20" font-size="14.5" textLength="10.18" lengthAdjust="spacingAndGlyphs">−</text><text x="147.00" y="264.90" font-size="14.5" textLength="20.09" lengthAdjust="spacingAndGlyphs">2.1,</text><text x="169.26" y="265.90" font-size="14.5" textLength="10.18" lengthAdjust="spacingAndGlyphs">+</text><text x="179.82" y="264.90" font-size="14.5" textLength="24.66" lengthAdjust="spacingAndGlyphs">1.3}</text><text x="210.00" y="264.90" font-size="14.5" font-style="italic" textLength="6.65" lengthAdjust="spacingAndGlyphs">e</text><text x="216.20" y="264.90" font-size="14.5" textLength="24.70" lengthAdjust="spacingAndGlyphs">/µm</text><text x="241.80" y="261.10" font-size="10.5" textLength="4.70" lengthAdjust="spacingAndGlyphs">2</text></g><rect x="404.60" y="14.50" width="174" height="107.9" rx="3" fill="rgba(255,255,255,0.8)" stroke="#cfcfcf" stroke-width="1.2"/><g stroke="#b3b3ff" stroke-width="1.0" fill="none"><line x1="416.50" y1="17.70" x2="416.50" y2="31.30"/><line x1="413.70" y1="17.70" x2="419.30" y2="17.70"/><line x1="413.70" y1="31.30" x2="419.30" y2="31.30"/><line x1="409.20" y1="24.50" x2="423.80" y2="24.50"/><line x1="409.20" y1="21.70" x2="409.20" y2="27.30"/><line x1="423.80" y1="21.70" x2="423.80" y2="27.30"/></g><g fill="#0000ff"><circle cx="416.40" cy="24.50" r="2.8"/></g><g stroke="#ffb3b3" stroke-width="1.0" fill="none"><line x1="416.50" y1="52.50" x2="416.50" y2="67.30"/><line x1="413.70" y1="52.50" x2="419.30" y2="52.50"/><line x1="413.70" y1="67.30" x2="419.30" y2="67.30"/></g><g stroke="#ff0000" stroke-width="1.6" fill="none"><path d="M412.20 55.70L420.60 64.10M412.20 64.10L420.60 55.70"/></g><g stroke="#b3d9b3" stroke-width="1.0" fill="none"><line x1="416.50" y1="95.70" x2="416.50" y2="109.50"/><line x1="413.70" y1="95.70" x2="419.30" y2="95.70"/><line x1="413.70" y1="109.50" x2="419.30" y2="109.50"/></g><g fill="#008000" stroke="#008000" stroke-width="1.25" stroke-linejoin="round"><polygon points="416.40,98.75 417.44,101.17 420.06,101.41 418.08,103.15 418.66,105.71 416.40,104.37 414.14,105.71 414.72,103.15 412.74,101.41 415.36,101.17"/></g><g font-family="'Liberation Serif', serif" font-size="14.5" fill="#000"><text x="434.60" y="29.50" textLength="78" lengthAdjust="spacingAndGlyphs">Measurement</text><text x="434.60" y="55.20" textLength="63" lengthAdjust="spacingAndGlyphs">Simulation</text><text x="434.10" y="70.20" font-size="14.5" font-style="italic" textLength="8.77" lengthAdjust="spacingAndGlyphs">σ</text><text x="443.90" y="72.50" font-size="10.5" textLength="4.24" lengthAdjust="spacingAndGlyphs">f</text><text x="449.76" y="72.20" font-size="14.5" textLength="10.99" lengthAdjust="spacingAndGlyphs">=</text><text x="464.80" y="70.20" font-size="14.5" font-style="italic" textLength="7.25" lengthAdjust="spacingAndGlyphs">σ</text><text x="472.90" y="72.50" font-size="10.5" textLength="4.20" lengthAdjust="spacingAndGlyphs">s</text><text x="480.46" y="72.20" font-size="14.5" textLength="10.99" lengthAdjust="spacingAndGlyphs">=</text><text x="495.47" y="71.50" font-size="14.5" textLength="10.06" lengthAdjust="spacingAndGlyphs">−</text><text x="506.50" y="70.20" font-size="14.5" textLength="21.82" lengthAdjust="spacingAndGlyphs">0.27</text><text x="535.60" y="70.20" font-size="14.5" font-style="italic" textLength="6.01" lengthAdjust="spacingAndGlyphs">e</text><text x="541.60" y="70.20" font-size="14.5" textLength="26.35" lengthAdjust="spacingAndGlyphs">/µm</text><text x="568.10" y="66.40" font-size="10.5" textLength="5.10" lengthAdjust="spacingAndGlyphs">2</text><text x="433.17" y="95.60" font-size="14.5" textLength="65.40" lengthAdjust="spacingAndGlyphs">Simulation</text><text x="503.16" y="95.60" font-size="14.5" textLength="6.55" lengthAdjust="spacingAndGlyphs">{</text><text x="509.50" y="95.60" font-size="14.5" font-style="italic" textLength="9.12" lengthAdjust="spacingAndGlyphs">σ</text><text x="520.40" y="97.90" font-size="10.5" textLength="3.79" lengthAdjust="spacingAndGlyphs">f</text><text x="524.90" y="95.60" font-size="14.5" textLength="2.30" lengthAdjust="spacingAndGlyphs">,</text><text x="527.90" y="95.60" font-size="14.5" font-style="italic" textLength="8.59" lengthAdjust="spacingAndGlyphs">σ</text><text x="537.50" y="97.90" font-size="10.5" textLength="4.00" lengthAdjust="spacingAndGlyphs">s</text><text x="542.90" y="95.60" font-size="14.5" textLength="4.88" lengthAdjust="spacingAndGlyphs">}</text><text x="550.43" y="97.60" font-size="14.5" textLength="11.23" lengthAdjust="spacingAndGlyphs">=</text><text x="434.78" y="112.90" font-size="14.5" textLength="6.41" lengthAdjust="spacingAndGlyphs">{</text><text x="440.56" y="114.20" font-size="14.5" textLength="10.18" lengthAdjust="spacingAndGlyphs">−</text><text x="452.10" y="112.90" font-size="14.5" textLength="20.09" lengthAdjust="spacingAndGlyphs">2.1,</text><text x="474.36" y="113.90" font-size="14.5" textLength="10.18" lengthAdjust="spacingAndGlyphs">+</text><text x="484.92" y="112.90" font-size="14.5" textLength="24.66" lengthAdjust="spacingAndGlyphs">1.3}</text><text x="515.10" y="112.90" font-size="14.5" font-style="italic" textLength="6.65" lengthAdjust="spacingAndGlyphs">e</text><text x="521.30" y="112.90" font-size="14.5" textLength="24.70" lengthAdjust="spacingAndGlyphs">/µm</text><text x="546.90" y="109.10" font-size="10.5" textLength="4.70" lengthAdjust="spacingAndGlyphs">2</text></g><g stroke="#000" stroke-width="1.25" fill="none"><rect x="42.5" y="7.5" width="238.0" height="274.0"/><line x1="37.50" y1="274.30" x2="42.5" y2="274.30"/><line x1="37.50" y1="240.26" x2="42.5" y2="240.26"/><line x1="37.50" y1="206.22" x2="42.5" y2="206.22"/><line x1="37.50" y1="172.18" x2="42.5" y2="172.18"/><line x1="37.50" y1="138.14" x2="42.5" y2="138.14"/><line x1="37.50" y1="104.10" x2="42.5" y2="104.10"/><line x1="37.50" y1="70.06" x2="42.5" y2="70.06"/><line x1="37.50" y1="36.02" x2="42.5" y2="36.02"/><line x1="111.00" y1="281.5" x2="111.00" y2="286.50"/><line x1="197.60" y1="281.5" x2="197.60" y2="286.50"/></g><g stroke="#000" stroke-width="1.25" fill="none"><rect x="347.5" y="7.5" width="238.0" height="274.0"/><line x1="342.50" y1="256.60" x2="347.5" y2="256.60"/><line x1="342.50" y1="223.13" x2="347.5" y2="223.13"/><line x1="342.50" y1="189.66" x2="347.5" y2="189.66"/><line x1="342.50" y1="156.19" x2="347.5" y2="156.19"/><line x1="342.50" y1="122.72" x2="347.5" y2="122.72"/><line x1="342.50" y1="89.25" x2="347.5" y2="89.25"/><line x1="342.50" y1="55.78" x2="347.5" y2="55.78"/><line x1="342.50" y1="22.31" x2="347.5" y2="22.31"/><line x1="416.00" y1="281.5" x2="416.00" y2="286.50"/><line x1="502.60" y1="281.5" x2="502.60" y2="286.50"/></g><g font-family="'Liberation Serif', serif" font-size="14.2" fill="#000"><text x="33.0" y="279.30" text-anchor="end">6</text><text x="33.0" y="245.26" text-anchor="end">7</text><text x="33.0" y="211.22" text-anchor="end">8</text><text x="33.0" y="177.18" text-anchor="end">9</text><text x="33.0" y="143.14" text-anchor="end">10</text><text x="33.0" y="109.10" text-anchor="end">11</text><text x="33.0" y="75.06" text-anchor="end">12</text><text x="33.0" y="41.02" text-anchor="end">13</text><text x="338.6" y="261.60" text-anchor="end">350</text><text x="338.6" y="228.13" text-anchor="end">400</text><text x="338.6" y="194.66" text-anchor="end">450</text><text x="338.6" y="161.19" text-anchor="end">500</text><text x="338.6" y="127.72" text-anchor="end">550</text><text x="338.6" y="94.25" text-anchor="end">600</text><text x="338.6" y="60.78" text-anchor="end">650</text><text x="338.6" y="27.31" text-anchor="end">700</text><text x="111.00" y="301.2" text-anchor="middle">500</text><text x="416.00" y="301.2" text-anchor="middle">500</text><text x="197.60" y="301.2" text-anchor="middle">1000</text><text x="502.60" y="301.2" text-anchor="middle">1000</text><text x="77.00" y="317.8" textLength="112" lengthAdjust="spacingAndGlyphs">Position of fiber M</text><text x="193.30" y="317.8" font-style="italic" textLength="8.6" lengthAdjust="spacingAndGlyphs">d</text><text x="201.60" y="320.3" font-size="10" textLength="9.4" lengthAdjust="spacingAndGlyphs">M</text><text x="216.20" y="317.8" textLength="29.9" lengthAdjust="spacingAndGlyphs">(µm)</text><text x="382.10" y="317.8" textLength="112" lengthAdjust="spacingAndGlyphs">Position of fiber M</text><text x="498.40" y="317.8" font-style="italic" textLength="8.6" lengthAdjust="spacingAndGlyphs">d</text><text x="506.70" y="320.3" font-size="10" textLength="9.4" lengthAdjust="spacingAndGlyphs">M</text><text x="521.30" y="317.8" textLength="29.9" lengthAdjust="spacingAndGlyphs">(µm)</text><text transform="translate(11.6,202.4) rotate(-90)" x="0" y="0" font-size="14.6" textLength="117" lengthAdjust="spacingAndGlyphs">Ion position <tspan font-style="italic">x</tspan> (µm)</text><g transform="translate(308.1,254.3) rotate(-90)" font-size="14.6"><text x="0" y="0" textLength="136.2" lengthAdjust="spacingAndGlyphs">Axial secular frequency</text><text x="141.9" y="0" font-style="italic" textLength="9.0" lengthAdjust="spacingAndGlyphs">ω</text><text x="151.3" y="2.3" font-size="10" textLength="10.2" lengthAdjust="spacingAndGlyphs">ax</text><text x="168.6" y="0" textLength="51" lengthAdjust="spacingAndGlyphs">(2<tspan font-style="italic">π</tspan>·kHz)</text></g></g><text x="-0.7" y="12.6" font-family="'Liberation Serif', serif" font-size="17.5" fill="#000" textLength="18.4" lengthAdjust="spacingAndGlyphs">(a)</text><text x="285" y="12.6" font-family="'Liberation Serif', serif" font-size="17.5" fill="#000" textLength="19.4" lengthAdjust="spacingAndGlyphs">(b)</text></svg></body></html>
